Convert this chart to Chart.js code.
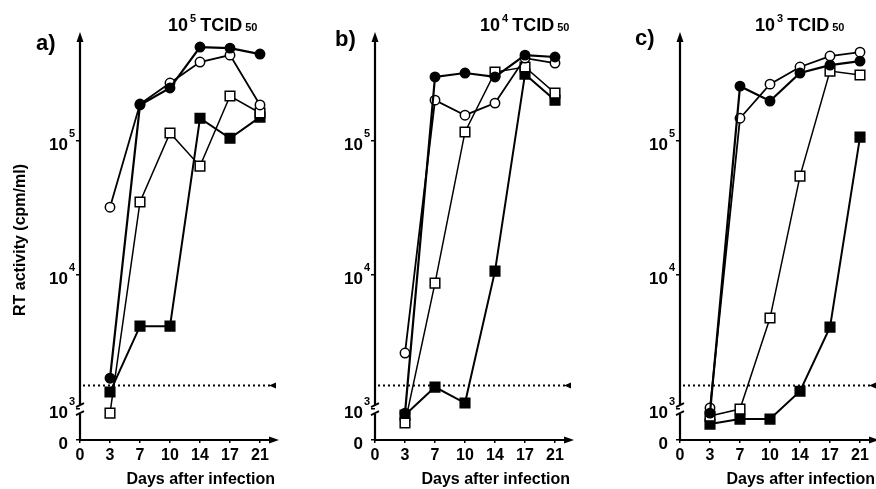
<!DOCTYPE html>
<html>
<head>
<meta charset="utf-8">
<script src="https://cdn.jsdelivr.net/npm/chart.js@4.4.0/dist/chart.umd.min.js"></script>
<style>
  html, body { margin: 0; padding: 0; background: #fff; overflow: hidden; }
  body { width: 876px; height: 489px; position: relative; }
  .panel { position: absolute; top: 0; width: 300px; height: 489px; }
</style>
</head>
<body>
<div class="panel" style="left:0"><canvas id="chartA"></canvas></div>
<div class="panel" style="left:295px"><canvas id="chartB"></canvas></div>
<div class="panel" style="left:600px"><canvas id="chartC"></canvas></div>
<script>
// days after infection (the axis spaces them evenly)
const dayLabels = ['0', '3', '7', '10', '14', '17', '21'];
const sampleDays = ['3', '7', '10', '14', '17', '21'];

// y axis: log scale, bottom edge is labelled "0"
const yMin = 588;
const yMax = 568000;
const yTicks = [1e3, 1e4, 1e5];
const detectionLimit = 1500;

// RT activity (cpm/ml), panel a) 10^5 TCID50
const aClosedCircle = [1700, 186000, 249000, 503000, 494000, 446000];
const aOpenCircle = [32100, 189000, 271000, 389000, 438000, 186000];
const aOpenSquare = [933, 35100, 115000, 65000, 217000, 162000];
const aClosedSquare = [1340, 4160, 4160, 148000, 105000, 151000];

// panel b) 10^4 TCID50
const bClosedCircle = [933, 301000, 322000, 301000, 438000, 424000];
const bOpenCircle = [2620, 202000, 156000, 192000, 416000, 382000];
const bOpenSquare = [787, 8710, 117000, 327000, 357000, 228000];
const bClosedSquare = [902, 1460, 1110, 10700, 316000, 202000];

// panel c) 10^3 TCID50
const cClosedCircle = [933, 257000, 199000, 322000, 369000, 395000];
const cOpenCircle = [1020, 148000, 266000, 357000, 431000, 461000];
const cOpenSquare = [887, 1000, 4780, 54800, 333000, 311000];
const cClosedSquare = [773, 842, 842, 1360, 4090, 107000];

const FONT = '"Liberation Sans", Arial, Helvetica, sans-serif';
Chart.defaults.font.family = FONT;
Chart.defaults.font.weight = 'bold';
Chart.defaults.color = '#000';

const TICK_LEN = 4;
const TICK_PAD = 8;

function points(values) {
  return sampleDays.map((d, i) => ({ x: dayLabels.indexOf(d), y: values[i] }));
}

function series(values, style, fill, lineWidth) {
  return {
    data: points(values),
    borderColor: '#000',
    borderWidth: lineWidth,
    pointStyle: style,
    pointRadius: style === 'rect' ? 6.8 : 4.7,
    pointBackgroundColor: fill,
    pointBorderColor: '#000',
    pointBorderWidth: 1.5,
    tension: 0,
  };
}

// axes with arrows and break, detection limit, exponents, panel letter and title
const panelDecor = {
  id: 'panelDecor',
  beforeDatasetsDraw(chart, args, opts) {
    const { ctx, chartArea: { left, right, top, bottom }, scales: { y } } = chart;
    ctx.save();
    ctx.strokeStyle = '#000';
    ctx.fillStyle = '#000';

    // dotted detection limit
    const yl = y.getPixelForValue(detectionLimit);
    ctx.lineWidth = 2;
    ctx.setLineDash([2, 3]);
    ctx.beginPath();
    ctx.moveTo(left + 3, yl);
    ctx.lineTo(right - 2, yl);
    ctx.stroke();
    ctx.setLineDash([]);
    ctx.beginPath();
    ctx.moveTo(right - 6, yl);
    ctx.lineTo(right + 1, yl - 3);
    ctx.lineTo(right + 1, yl + 3);
    ctx.closePath();
    ctx.fill();

    // y axis with break at 10^3
    const yb = y.getPixelForValue(1e3);
    ctx.lineWidth = 2.2;
    ctx.beginPath();
    ctx.moveTo(left, bottom);
    ctx.lineTo(left, yb + 5);
    ctx.moveTo(left, yb - 4);
    ctx.lineTo(left, top - 2);
    ctx.stroke();
    ctx.lineWidth = 1.8;
    ctx.beginPath();
    ctx.moveTo(left - 4, yb - 2);
    ctx.lineTo(left + 4, yb - 6);
    ctx.moveTo(left - 4, yb + 6);
    ctx.lineTo(left + 4, yb + 2);
    ctx.stroke();
    ctx.beginPath();
    ctx.moveTo(left, top - 8);
    ctx.lineTo(left - 3.5, top + 2);
    ctx.lineTo(left + 3.5, top + 2);
    ctx.closePath();
    ctx.fill();

    // x axis
    ctx.lineWidth = 2.2;
    ctx.beginPath();
    ctx.moveTo(left - 1, bottom);
    ctx.lineTo(right - 2, bottom);
    ctx.stroke();
    ctx.beginPath();
    ctx.moveTo(right + 4, bottom);
    ctx.lineTo(right - 6, bottom - 3.5);
    ctx.lineTo(right - 6, bottom + 3.5);
    ctx.closePath();
    ctx.fill();
    ctx.restore();
  },
  afterDraw(chart, args, opts) {
    const { ctx, chartArea: { left }, scales: { y } } = chart;
    ctx.save();
    ctx.fillStyle = '#000';
    ctx.textBaseline = 'alphabetic';
    ctx.textAlign = 'left';

    // exponents of the y tick labels
    ctx.font = 'bold 11px ' + FONT;
    yTicks.forEach((v) => {
      const py = y.getPixelForValue(v);
      ctx.fillText(String(Math.round(Math.log10(v))), left - TICK_LEN - TICK_PAD + 1, py - 4);
    });

    ctx.font = 'bold 22px ' + FONT;
    ctx.fillText(opts.letter, opts.letterX, opts.letterY);

    let x = opts.titleX;
    const base = 31;
    ctx.font = 'bold 18px ' + FONT;
    ctx.fillText('10', x, base);
    x += ctx.measureText('10').width + 2;
    ctx.font = 'bold 11px ' + FONT;
    ctx.fillText(opts.dose, x, base - 9);
    x += ctx.measureText(opts.dose).width + 4;
    ctx.font = 'bold 18px ' + FONT;
    ctx.fillText('TCID', x, base);
    x += ctx.measureText('TCID').width + 3;
    ctx.font = 'bold 11px ' + FONT;
    ctx.fillText('50', x, base);
    ctx.restore();
  },
};

function makeChart(id, cc, oc, os, cs, decor, showYTitle) {
  return new Chart(document.getElementById(id), {
    type: 'line',
    data: {
      datasets: [
        series(cc, 'circle', '#000', 2.2),
        series(oc, 'circle', '#fff', 1.8),
        series(os, 'rect', '#fff', 1.5),
        series(cs, 'rect', '#000', 2),
      ],
    },
    plugins: [panelDecor],
    options: {
      responsive: true,
      maintainAspectRatio: false,
      animation: false,
      layout: { padding: { left: 0, right: 25, top: 40, bottom: 0 } },
      plugins: {
        legend: { display: false },
        tooltip: { enabled: false },
        panelDecor: decor,
      },
      scales: {
        x: {
          type: 'linear',
          min: 0,
          max: 6.5,
          afterBuildTicks: (scale) => {
            scale.ticks = dayLabels.map((d, i) => ({ value: i }));
          },
          afterFit: (scale) => { scale.height = 49; },
          ticks: {
            callback: (v) => dayLabels[v],
            font: { size: 16, weight: 'bold' },
            color: '#000',
            padding: 3,
            maxRotation: 0,
            autoSkip: false,
          },
          grid: { drawOnChartArea: false, drawTicks: true, tickLength: 3, color: '#000', lineWidth: 1.5 },
          border: { display: false },
          title: {
            display: true,
            text: 'Days after infection',
            align: 'end',
            font: { size: 16, weight: 'bold' },
            color: '#000',
            padding: { top: 0, bottom: 0 },
          },
        },
        y: {
          type: 'logarithmic',
          min: yMin,
          max: yMax,
          afterBuildTicks: (scale) => {
            scale.ticks = [yMin, ...yTicks].map((v) => ({ value: v }));
          },
          afterFit: (scale) => { scale.width = 80; },
          ticks: {
            callback: (v) => (v === yMin ? '0' : '10'),
            font: { size: 17, weight: 'bold' },
            color: '#000',
            padding: TICK_PAD,
            labelOffset: 4,
            autoSkip: false,
          },
          grid: { drawOnChartArea: false, drawTicks: true, tickLength: TICK_LEN, color: '#000', lineWidth: 1.5 },
          border: { display: false },
          title: {
            display: showYTitle,
            text: 'RT activity (cpm/ml)',
            font: { size: 16, weight: 'bold' },
            color: '#000',
            padding: { top: 11, bottom: 0 },
          },
        },
      },
    },
  });
}

makeChart('chartA', aClosedCircle, aOpenCircle, aOpenSquare, aClosedSquare,
  { letter: 'a)', letterX: 36, letterY: 50, titleX: 168, dose: '5' }, true);
makeChart('chartB', bClosedCircle, bOpenCircle, bOpenSquare, bClosedSquare,
  { letter: 'b)', letterX: 40, letterY: 46, titleX: 185, dose: '4' }, false);
makeChart('chartC', cClosedCircle, cOpenCircle, cOpenSquare, cClosedSquare,
  { letter: 'c)', letterX: 35, letterY: 45, titleX: 155, dose: '3' }, false);
</script>
</body>
</html>
